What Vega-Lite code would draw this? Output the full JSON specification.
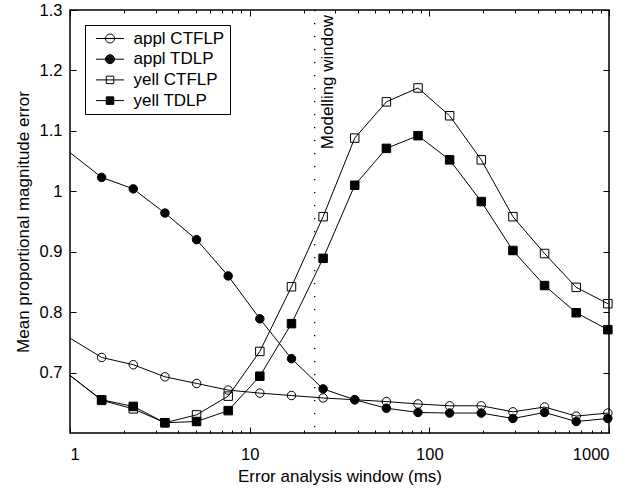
{
  "$schema": "https://vega.github.io/schema/vega-lite/v6.json",
  "width": 539,
  "height": 423,
  "autosize": "none",
  "padding": {"left": 70, "top": 10, "right": 20, "bottom": 55},
  "background": "white",
  "config": {
    "view": {"stroke": "black", "strokeWidth": 1.5},
    "axis": {"grid": false, "domain": false, "labelFont": "Liberation Sans", "titleFont": "Liberation Sans", "labelColor": "black", "titleColor": "black", "tickColor": "black", "labelFontSize": 16.5, "titleFontSize": 17, "titleFontWeight": "normal", "tickWidth": 1},
    "legend": {"labelFont": "Liberation Sans", "labelColor": "black"},
    "text": {"font": "Liberation Sans"}
  },
  "data": {"values": [
    {"series": "appl CTFLP", "x": 0.6667, "y": 0.789},
    {"series": "appl CTFLP", "x": 1.5, "y": 0.725},
    {"series": "appl CTFLP", "x": 2.25, "y": 0.713},
    {"series": "appl CTFLP", "x": 3.375, "y": 0.693},
    {"series": "appl CTFLP", "x": 5.0625, "y": 0.682},
    {"series": "appl CTFLP", "x": 7.594, "y": 0.671},
    {"series": "appl CTFLP", "x": 11.39, "y": 0.666},
    {"series": "appl CTFLP", "x": 17.09, "y": 0.662},
    {"series": "appl CTFLP", "x": 25.63, "y": 0.658},
    {"series": "appl CTFLP", "x": 38.44, "y": 0.655},
    {"series": "appl CTFLP", "x": 57.67, "y": 0.652},
    {"series": "appl CTFLP", "x": 86.5, "y": 0.648},
    {"series": "appl CTFLP", "x": 129.7, "y": 0.645},
    {"series": "appl CTFLP", "x": 194.6, "y": 0.645},
    {"series": "appl CTFLP", "x": 291.9, "y": 0.635},
    {"series": "appl CTFLP", "x": 437.9, "y": 0.643},
    {"series": "appl CTFLP", "x": 656.8, "y": 0.628},
    {"series": "appl CTFLP", "x": 985.3, "y": 0.633},
    {"series": "appl TDLP", "x": 0.6667, "y": 1.105},
    {"series": "appl TDLP", "x": 1.5, "y": 1.023},
    {"series": "appl TDLP", "x": 2.25, "y": 1.004},
    {"series": "appl TDLP", "x": 3.375, "y": 0.964},
    {"series": "appl TDLP", "x": 5.0625, "y": 0.92},
    {"series": "appl TDLP", "x": 7.594, "y": 0.86},
    {"series": "appl TDLP", "x": 11.39, "y": 0.789},
    {"series": "appl TDLP", "x": 17.09, "y": 0.723},
    {"series": "appl TDLP", "x": 25.63, "y": 0.673},
    {"series": "appl TDLP", "x": 38.44, "y": 0.655},
    {"series": "appl TDLP", "x": 57.67, "y": 0.641},
    {"series": "appl TDLP", "x": 86.5, "y": 0.634},
    {"series": "appl TDLP", "x": 129.7, "y": 0.633},
    {"series": "appl TDLP", "x": 194.6, "y": 0.633},
    {"series": "appl TDLP", "x": 291.9, "y": 0.624},
    {"series": "appl TDLP", "x": 437.9, "y": 0.634},
    {"series": "appl TDLP", "x": 656.8, "y": 0.619},
    {"series": "appl TDLP", "x": 985.3, "y": 0.624},
    {"series": "yell CTFLP", "x": 0.6667, "y": 0.737},
    {"series": "yell CTFLP", "x": 1.5, "y": 0.654},
    {"series": "yell CTFLP", "x": 2.25, "y": 0.64},
    {"series": "yell CTFLP", "x": 3.375, "y": 0.617},
    {"series": "yell CTFLP", "x": 5.0625, "y": 0.63},
    {"series": "yell CTFLP", "x": 7.594, "y": 0.661},
    {"series": "yell CTFLP", "x": 11.39, "y": 0.735},
    {"series": "yell CTFLP", "x": 17.09, "y": 0.842},
    {"series": "yell CTFLP", "x": 25.63, "y": 0.958},
    {"series": "yell CTFLP", "x": 38.44, "y": 1.088},
    {"series": "yell CTFLP", "x": 57.67, "y": 1.148},
    {"series": "yell CTFLP", "x": 86.5, "y": 1.171},
    {"series": "yell CTFLP", "x": 129.7, "y": 1.125},
    {"series": "yell CTFLP", "x": 194.6, "y": 1.052},
    {"series": "yell CTFLP", "x": 291.9, "y": 0.958},
    {"series": "yell CTFLP", "x": 437.9, "y": 0.897},
    {"series": "yell CTFLP", "x": 656.8, "y": 0.841},
    {"series": "yell CTFLP", "x": 985.3, "y": 0.814},
    {"series": "yell TDLP", "x": 0.6667, "y": 0.735},
    {"series": "yell TDLP", "x": 1.5, "y": 0.655},
    {"series": "yell TDLP", "x": 2.25, "y": 0.644},
    {"series": "yell TDLP", "x": 3.375, "y": 0.617},
    {"series": "yell TDLP", "x": 5.0625, "y": 0.619},
    {"series": "yell TDLP", "x": 7.594, "y": 0.637},
    {"series": "yell TDLP", "x": 11.39, "y": 0.694},
    {"series": "yell TDLP", "x": 17.09, "y": 0.781},
    {"series": "yell TDLP", "x": 25.63, "y": 0.889},
    {"series": "yell TDLP", "x": 38.44, "y": 1.01},
    {"series": "yell TDLP", "x": 57.67, "y": 1.071},
    {"series": "yell TDLP", "x": 86.5, "y": 1.092},
    {"series": "yell TDLP", "x": 129.7, "y": 1.052},
    {"series": "yell TDLP", "x": 194.6, "y": 0.983},
    {"series": "yell TDLP", "x": 291.9, "y": 0.902},
    {"series": "yell TDLP", "x": 437.9, "y": 0.844},
    {"series": "yell TDLP", "x": 656.8, "y": 0.799},
    {"series": "yell TDLP", "x": 985.3, "y": 0.771}
  ]},
  "layer": [
    {
      "data": {"values": [{"x": 23}]},
      "mark": {"type": "rule", "stroke": "black", "strokeWidth": 1.3, "strokeDash": [1.3, 11.7]},
      "encoding": {
        "x": {"field": "x", "type": "quantitative",
          "scale": {"type": "log", "domain": [1, 1000], "nice": false},
          "axis": {"orient": "bottom", "values": [1, 10, 100, 1000], "format": "d", "ticks": false, "labelPadding": 13, "title": "Error analysis window (ms)", "titlePadding": 6}}
      }
    },
    {
      "mark": {"type": "line", "stroke": "black", "strokeWidth": 1, "clip": true},
      "encoding": {
        "x": {"field": "x", "type": "quantitative",
          "axis": {"orient": "bottom", "values": [1,2,3,4,5,6,7,8,9,10,20,30,40,50,60,70,80,90,100,200,300,400,500,600,700,800,900,1000], "labels": false, "title": null,
            "tickSize": {"condition": {"test": "indexof([1,10,100,1000], datum.value) >= 0", "value": -6}, "value": -3}}},
        "y": {"field": "y", "type": "quantitative",
          "scale": {"domain": [0.6, 1.3], "nice": false, "zero": false},
          "axis": {"orient": "left", "values": [0.7, 0.8, 0.9, 1, 1.1, 1.2, 1.3], "format": "~g", "ticks": false, "labelPadding": 8, "title": "Mean proportional magnitude error", "titlePadding": 7}},
        "detail": {"field": "series"}
      }
    },
    {
      "transform": [{"filter": "datum.x >= 1"}],
      "mark": {"type": "point", "stroke": "black", "strokeWidth": 1, "opacity": 1, "size": 72},
      "encoding": {
        "x": {"field": "x", "type": "quantitative",
          "axis": {"orient": "top", "values": [1,2,3,4,5,6,7,8,9,10,20,30,40,50,60,70,80,90,100,200,300,400,500,600,700,800,900,1000], "labels": false, "title": null,
            "tickSize": {"condition": {"test": "indexof([1,10,100,1000], datum.value) >= 0", "value": -6}, "value": -3}}},
        "y": {"field": "y", "type": "quantitative",
          "axis": {"orient": "left", "values": [0.7, 0.8, 0.9, 1, 1.1, 1.2, 1.3], "labels": false, "title": null, "tickSize": -6}},
        "shape": {"field": "series", "type": "nominal",
          "scale": {"domain": ["appl CTFLP", "appl TDLP", "yell CTFLP", "yell TDLP"], "range": ["circle", "circle", "square", "square"]},
          "legend": null},
        "fill": {"field": "series", "type": "nominal",
          "scale": {"domain": ["appl CTFLP", "appl TDLP", "yell CTFLP", "yell TDLP"], "range": ["transparent", "black", "transparent", "black"]},
          "legend": null}
      }
    },
    {
      "transform": [{"filter": "datum.x < 1"}],
      "mark": {"type": "point", "filled": false, "stroke": "black", "strokeWidth": 1, "opacity": 1, "size": 100, "clip": true},
      "encoding": {
        "x": {"field": "x", "type": "quantitative", "axis": null},
        "y": {"field": "y", "type": "quantitative", "axis": null},
        "shape": {"field": "series", "type": "nominal",
          "scale": {"domain": ["appl CTFLP", "appl TDLP", "yell CTFLP", "yell TDLP"],
            "range": [
              "M-0.5,0H5.1M3.2,0A0.9,0.9,0,1,1,1.4,0A0.9,0.9,0,1,1,3.2,0",
              "M-0.5,0H5.1M3.2,0A0.9,0.9,0,1,1,1.4,0A0.9,0.9,0,1,1,3.2,0M3.1,0A0.8,0.8,0,1,1,1.5,0A0.8,0.8,0,1,1,3.1,0M3,0A0.7,0.7,0,1,1,1.6,0A0.7,0.7,0,1,1,3,0M2.9,0A0.6,0.6,0,1,1,1.7,0A0.6,0.6,0,1,1,2.9,0M2.8,0A0.5,0.5,0,1,1,1.8,0A0.5,0.5,0,1,1,2.8,0M2.7,0A0.4,0.4,0,1,1,1.9,0A0.4,0.4,0,1,1,2.7,0M2.6,0A0.3,0.3,0,1,1,2,0A0.3,0.3,0,1,1,2.6,0M2.5,0A0.2,0.2,0,1,1,2.1,0A0.2,0.2,0,1,1,2.5,0M2.4,0A0.1,0.1,0,1,1,2.2,0A0.1,0.1,0,1,1,2.4,0",
              "M-0.5,0H5.1M1.55,-0.75H3.05V0.75H1.55Z",
              "M-0.5,0H5.1M1.55,-0.75H3.05V0.75H1.55ZM1.65,-0.65H2.95V0.65H1.65ZM1.75,-0.55H2.85V0.55H1.75ZM1.85,-0.45H2.75V0.45H1.85ZM1.95,-0.35H2.65V0.35H1.95ZM2.05,-0.25H2.55V0.25H2.05ZM2.15,-0.15H2.45V0.15H2.15ZM2.25,-0.05H2.35V0.05H2.25Z"
            ]},
          "legend": {"title": null, "orient": "top-left", "offset": 15, "padding": 5, "rowPadding": 2.7, "labelFontSize": 17, "symbolSize": 100, "symbolOffset": 0, "labelOffset": 26.5, "symbolStrokeColor": "black", "symbolStrokeWidth": 1, "symbolFillColor": "transparent", "strokeColor": "black", "fillColor": "white",
            "encode": {"legend": {"update": {"strokeWidth": {"value": 1.5}}}}}}
      }
    },
    {
      "data": {"values": [{"x": 23, "y": 1.3, "label": "Modelling window"}]},
      "mark": {"type": "text", "angle": 270, "align": "right", "baseline": "top", "dx": -5, "dy": 5, "fontSize": 17, "font": "Liberation Sans", "color": "black"},
      "encoding": {
        "x": {"field": "x", "type": "quantitative", "axis": null},
        "y": {"field": "y", "type": "quantitative",
          "axis": {"orient": "right", "values": [0.7, 0.8, 0.9, 1, 1.1, 1.2, 1.3], "labels": false, "title": null, "tickSize": -6}},
        "text": {"field": "label"}
      }
    }
  ],
  "resolve": {"axis": {"x": "independent", "y": "independent"}, "scale": {"shape": "independent", "fill": "independent"}}
}
